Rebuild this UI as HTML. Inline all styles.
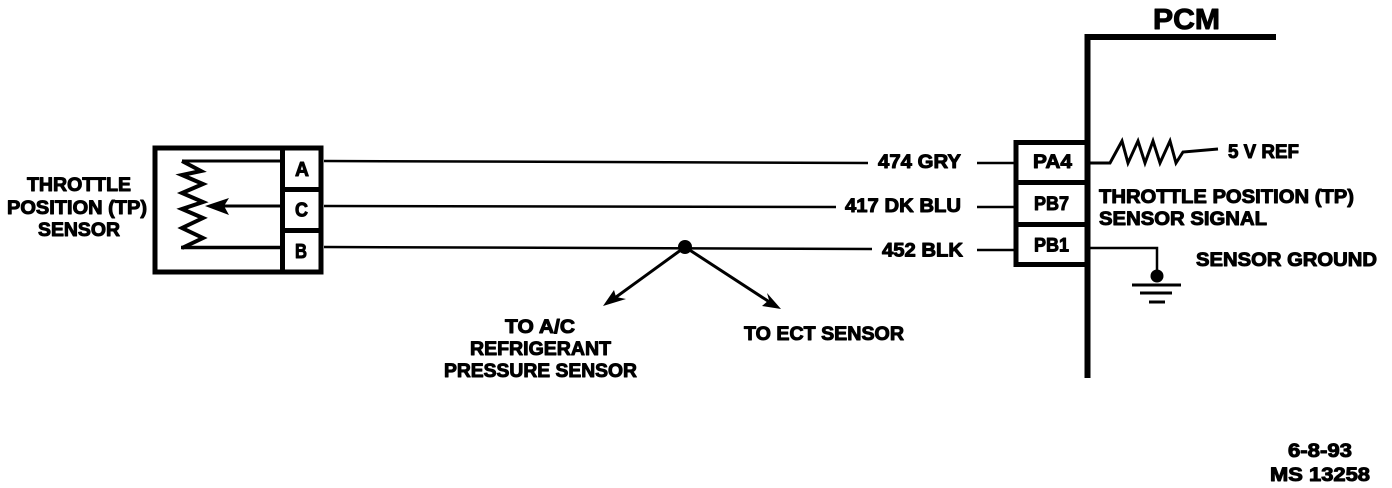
<!DOCTYPE html>
<html>
<head>
<meta charset="utf-8">
<style>
html,body{margin:0;padding:0;background:#fff;width:1392px;height:488px;overflow:hidden}
svg{display:block}
text{font-family:"Liberation Sans",sans-serif;font-weight:bold;fill:#000;stroke:#000;stroke-width:1px;font-size:19.500px;stroke-linejoin:round}
</style>
</head>
<body>
<svg width="1392" height="488" viewBox="0 0 1392 488" xmlns="http://www.w3.org/2000/svg">
<rect width="1392" height="488" fill="#fff"/>
<g fill="none" stroke="#000" stroke-linejoin="miter">
  <!-- sensor box -->
  <rect x="155" y="148" width="166" height="124" stroke-width="5"/>
  <path d="M282.500 148V272" stroke-width="5"/>
  <path d="M283 189.500H321M283 230.500H321" stroke-width="5"/>
  <!-- internal resistor -->
  <path d="M182 161H281" stroke-width="3"/>
  <path d="M182 161L201 171L182 175L203 184L182 193L203 202L182 209L203 218L182 228L203 238L182 248" stroke-width="4"/>
  <path d="M181 247.500H281" stroke-width="3.500"/>
  <path d="M222 206H281" stroke-width="3"/>
  <!-- wires -->
  <path d="M324 161L868 163M324 206L836 207M324 247L872 249" stroke-width="2.500"/>
  <path d="M977 163H1016M977 207H1016M977 250H1016" stroke-width="2.500"/>
  <!-- PCM -->
  <path d="M1087.500 378V37H1276" stroke-width="6"/>
  <rect x="1016" y="142.500" width="71" height="122" stroke-width="5"/>
  <path d="M1016 182.500H1087M1016 224.500H1087" stroke-width="5"/>
  <!-- 5V ref resistor -->
  <path d="M1090 163H1110L1122 141L1128 163L1138 141L1145 163L1153 141L1160 163L1170 141L1176 163L1183 152L1218 149" stroke-width="3"/>
  <!-- ground -->
  <path d="M1090 248H1157V276" stroke-width="2.500"/>
  <path d="M1132 285H1181M1140 293H1172M1149 302H1165" stroke-width="3"/>
  <!-- branches -->
  <path d="M685 247L612 300M685 247L771 303" stroke-width="3"/>
</g>
<circle cx="1157" cy="276" r="6.500" fill="#000"/>
<circle cx="685" cy="247" r="7" fill="#000"/>
<polygon points="205,206 229,198 224,206 229,215" fill="#000"/>
<polygon points="603,306 614,290 616,297 626,299" fill="#000"/>
<polygon points="781,309 762,306 769,300 767,293" fill="#000"/>

<text x="1153" y="29" style="font-size:29px" textLength="67" lengthAdjust="spacingAndGlyphs">PCM</text>
<text x="27" y="191" textLength="104" lengthAdjust="spacingAndGlyphs">THROTTLE</text>
<text x="7" y="214" textLength="140" lengthAdjust="spacingAndGlyphs">POSITION (TP)</text>
<text x="38" y="236" textLength="82" lengthAdjust="spacingAndGlyphs">SENSOR</text>
<text x="295" y="176" style="font-size:20px" textLength="14" lengthAdjust="spacingAndGlyphs">A</text>
<text x="295" y="216.500" style="font-size:20px" textLength="13" lengthAdjust="spacingAndGlyphs">C</text>
<text x="295" y="258" style="font-size:20px" textLength="12" lengthAdjust="spacingAndGlyphs">B</text>
<text x="878" y="168" textLength="83" lengthAdjust="spacingAndGlyphs">474 GRY</text>
<text x="845" y="212" textLength="116" lengthAdjust="spacingAndGlyphs">417 DK BLU</text>
<text x="882" y="256.500" textLength="81" lengthAdjust="spacingAndGlyphs">452 BLK</text>
<text x="1033" y="168" textLength="39" lengthAdjust="spacingAndGlyphs">PA4</text>
<text x="1034" y="210" textLength="35" lengthAdjust="spacingAndGlyphs">PB7</text>
<text x="1034" y="251.500" textLength="35" lengthAdjust="spacingAndGlyphs">PB1</text>
<text x="1228" y="158" textLength="71" lengthAdjust="spacingAndGlyphs">5 V REF</text>
<text x="1099" y="203" textLength="255" lengthAdjust="spacingAndGlyphs">THROTTLE POSITION (TP)</text>
<text x="1099" y="225" textLength="168" lengthAdjust="spacingAndGlyphs">SENSOR  SIGNAL</text>
<text x="1196" y="266" textLength="181" lengthAdjust="spacingAndGlyphs">SENSOR GROUND</text>
<text x="744" y="340" textLength="160" lengthAdjust="spacingAndGlyphs">TO ECT SENSOR</text>
<text x="505" y="333" textLength="70" lengthAdjust="spacingAndGlyphs">TO A/C</text>
<text x="470" y="355" textLength="141" lengthAdjust="spacingAndGlyphs">REFRIGERANT</text>
<text x="444" y="377" textLength="193" lengthAdjust="spacingAndGlyphs">PRESSURE SENSOR</text>
<text x="1288" y="457" textLength="64" lengthAdjust="spacingAndGlyphs">6-8-93</text>
<text x="1270" y="481" textLength="100" lengthAdjust="spacingAndGlyphs">MS 13258</text>
</svg>
</body>
</html>
